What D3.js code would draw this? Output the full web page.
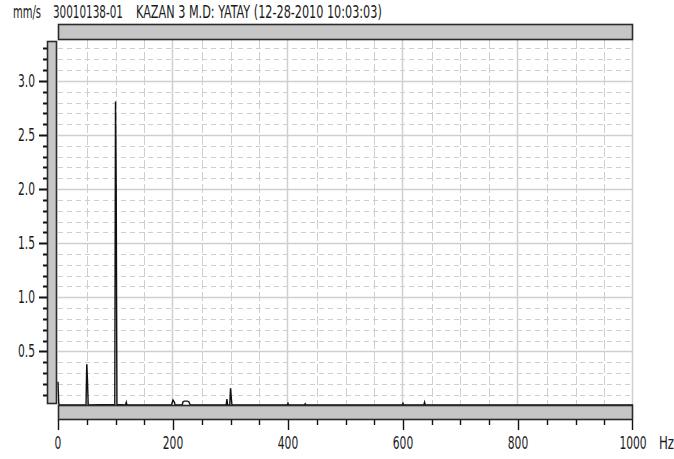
<!DOCTYPE html>
<html>
<head>
<meta charset="utf-8">
<script src="https://cdn.jsdelivr.net/npm/d3@7"></script>
<style>
  html, body { margin: 0; padding: 0; background: #fff; }
  svg { display: block; }
</style>
</head>
<body>
<svg id="chart" width="674" height="459"></svg>
<script>
// Header texts
const unitLabel = "mm/s";
const pointId = "30010138-01";
const pointName = "KAZAN 3 M.D: YATAY (12-28-2010 10:03:03)";
const xUnit = "Hz";

// Axis ticks
const xTickLabels = [0, 200, 400, 600, 800, 1000];
const yTickLabels = [0.5, 1.0, 1.5, 2.0, 2.5, 3.0];

// Spectrum: frequency (Hz) and amplitude (mm/s)
const freqHz = [
  0, 1.25, 2.5, 48.75, 50, 51.25, 52.5,
  98.75, 100, 101.25, 102.5, 117.5, 118.75, 120,
  197.5, 198.75, 200, 201.25, 202.5, 203.75,
  216, 217.5, 220, 222.5, 225, 227.5, 230,
  292.5, 293.75, 295, 298.75, 300, 301.25, 302.5,
  398.75, 400, 401.25, 428.75, 430, 431.25,
  598.75, 600, 601.25, 636.25, 637.5, 638.75, 1000
];
const ampMms = [
  0.22, 0.02, 0.005, 0.005, 0.38, 0.24, 0.005,
  0.01, 2.81, 1.99, 0.01, 0.005, 0.03, 0.005,
  0.005, 0.03, 0.05, 0.04, 0.03, 0.005,
  0.005, 0.035, 0.04, 0.04, 0.04, 0.035, 0.005,
  0.005, 0.06, 0.005, 0.005, 0.16, 0.08, 0.005,
  0.005, 0.02, 0.005, 0.005, 0.015, 0.005,
  0.005, 0.02, 0.005, 0.005, 0.03, 0.005, 0.005
];

const svg = d3.select("#chart");
const font = "'Liberation Sans Narrow', 'DejaVu Sans Condensed', sans-serif";
const textCol = "#1a1a1a";
const gridCol = "#cfcfcf";
const barFill = "#c6c6c6";
const barStroke = "#2b2b2b";

const plot = { left: 58, right: 633, top: 40, bottom: 405.5 };
const x = d3.scaleLinear().domain([0, 1000]).range([plot.left, plot.right]);
const y = d3.scaleLinear().domain([0, 3.378]).range([plot.bottom, plot.top]);

// narrow, tall label text
function label(g, tx, ty, str, anchor, sx) {
  return g.append("text")
    .attr("transform", `translate(${tx},${ty}) scale(${sx},1)`)
    .attr("text-anchor", anchor)
    .attr("dominant-baseline", "central")
    .attr("font-family", font)
    .attr("font-size", 17.5)
    .attr("fill", textCol)
    .text(str);
}

// Title line: each piece squeezed horizontally to its width
const title = svg.append("g");
[[13, 28, unitLabel], [53, 70, pointId], [136, 246, pointName]].forEach(([tx, w, s]) => {
  const t = title.append("text")
    .attr("dominant-baseline", "central")
    .attr("font-family", font)
    .attr("font-size", 17)
    .attr("fill", textCol)
    .text(s);
  const natural = t.node().getComputedTextLength();
  t.attr("transform", `translate(${tx},12) scale(${w / natural},1)`);
});

// Grid
const grid = svg.append("g");
const yMinor = d3.range(1, 34).map(i => i / 10).filter(v => Math.round(v * 10) % 5 !== 0);
const yMajor = d3.range(1, 7).map(i => i * 0.5);
grid.selectAll(".hminor").data(yMinor).join("line")
  .attr("x1", plot.left).attr("x2", plot.right)
  .attr("y1", d => Math.round(y(d)) + 0.5).attr("y2", d => Math.round(y(d)) + 0.5)
  .attr("stroke", gridCol).attr("stroke-dasharray", "5,4");
grid.selectAll(".hmajor").data(yMajor).join("line")
  .attr("x1", plot.left).attr("x2", plot.right)
  .attr("y1", d => Math.round(y(d)) + 0.5).attr("y2", d => Math.round(y(d)) + 0.5)
  .attr("stroke", gridCol).attr("stroke-width", 1.5);
const xMinor = d3.range(50, 1000, 50).filter(v => v % 200 !== 0);
const xMajor = [200, 400, 600, 800, 1000];
grid.selectAll(".vminor").data(xMinor).join("line")
  .attr("y1", plot.top).attr("y2", plot.bottom)
  .attr("x1", d => Math.round(x(d)) + 0.5).attr("x2", d => Math.round(x(d)) + 0.5)
  .attr("stroke", gridCol).attr("stroke-dasharray", "9,3");
grid.selectAll(".vmajor").data(xMajor).join("line")
  .attr("y1", plot.top).attr("y2", plot.bottom)
  .attr("x1", d => Math.round(x(d)) - 0.5).attr("x2", d => Math.round(x(d)) - 0.5)
  .attr("stroke", gridCol).attr("stroke-width", 1.5);

// Spectrum trace
const pts = freqHz.map((f, i) => [f, ampMms[i]]);
svg.append("path")
  .datum(pts)
  .attr("d", d3.line().x(d => x(d[0])).y(d => y(d[1])))
  .attr("fill", "none")
  .attr("stroke", "#111")
  .attr("stroke-width", 1.4);

// Top bar
svg.append("rect")
  .attr("x", plot.left + 0.5).attr("y", 24.5)
  .attr("width", plot.right - plot.left - 1).attr("height", 15)
  .attr("fill", barFill).attr("stroke", barStroke).attr("stroke-width", 1.6);

// Left bar
svg.append("rect")
  .attr("x", 47.5).attr("y", 41.5)
  .attr("width", 9).attr("height", 362)
  .attr("fill", barFill).attr("stroke", barStroke).attr("stroke-width", 1.6);

// Bottom bar
svg.append("rect")
  .attr("x", plot.left + 0.5).attr("y", 405.5)
  .attr("width", plot.right - plot.left - 1).attr("height", 14)
  .attr("fill", barFill).attr("stroke", barStroke).attr("stroke-width", 1.6);

// Y axis ticks and labels
const yAxis = svg.append("g");
const yAllTicks = d3.range(1, 34).map(i => i / 10);
yAxis.selectAll("line").data(yAllTicks).join("line")
  .attr("x1", d => (Math.round(d * 10) % 5 === 0 ? 39 : 43)).attr("x2", 47)
  .attr("y1", d => Math.round(y(d)) + 0.5).attr("y2", d => Math.round(y(d)) + 0.5)
  .attr("stroke", "#111").attr("stroke-width", 2);
yTickLabels.forEach(v => label(yAxis, 35, Math.round(y(v)) + 0.5, v.toFixed(1), "end", 0.68));

// X axis ticks and labels
const xAxis = svg.append("g");
const xAllTicks = d3.range(0, 1001, 50);
xAxis.selectAll("line").data(xAllTicks).join("line")
  .attr("x1", d => Math.round(x(d)) + 0.5 - (d === 1000 ? 1 : 0))
  .attr("x2", d => Math.round(x(d)) + 0.5 - (d === 1000 ? 1 : 0))
  .attr("y1", 420).attr("y2", d => (d % 200 === 0 ? 430 : 425))
  .attr("stroke", "#111").attr("stroke-width", 1.4);
xTickLabels.forEach(v => label(xAxis, x(v), 443, String(v), "middle", 0.68));
label(xAxis, 659, 443, xUnit, "start", 0.75);
</script>
</body>
</html>
